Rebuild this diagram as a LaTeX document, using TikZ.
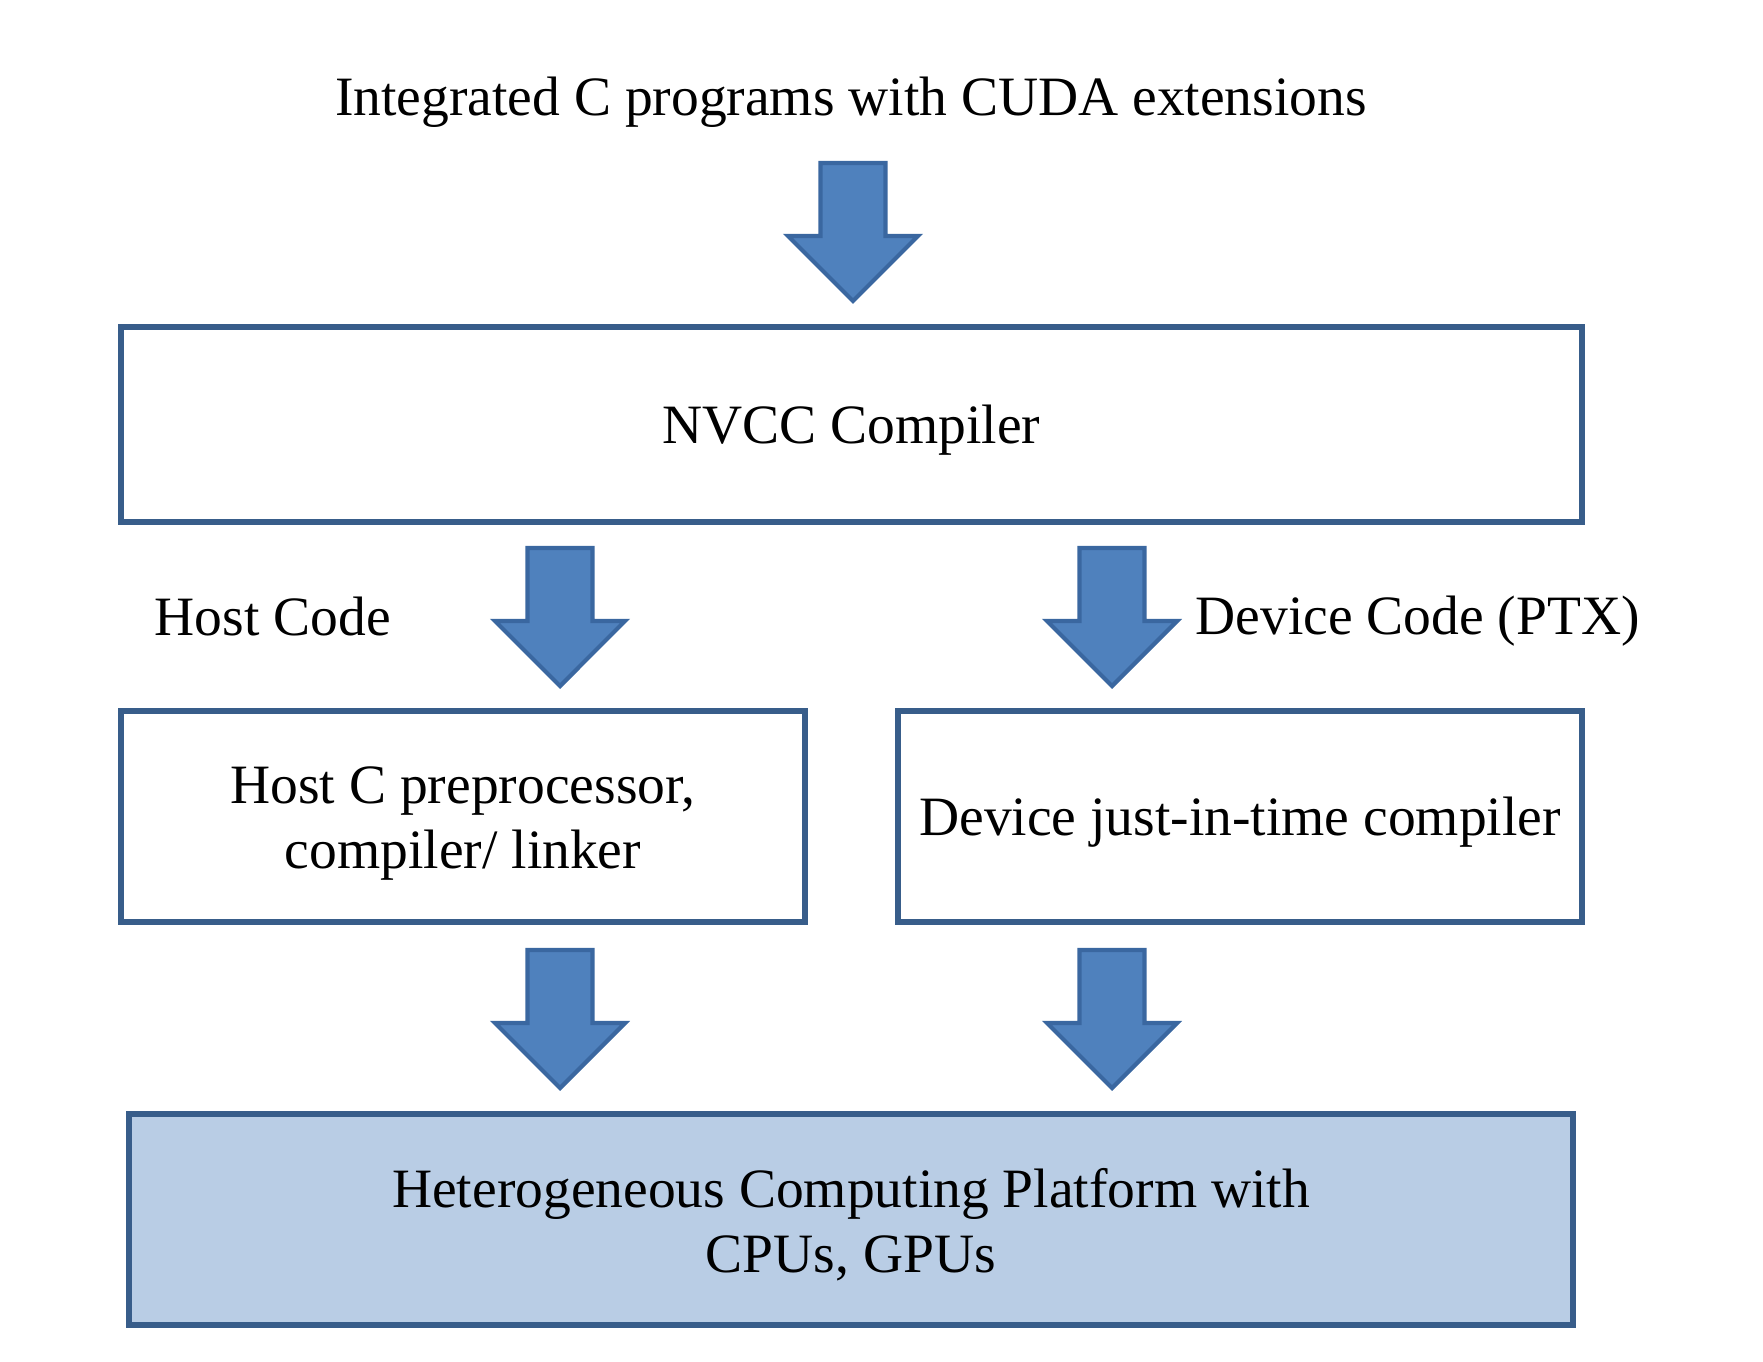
\documentclass[tikz,border=0pt]{standalone}
\usepackage{fontspec}
\setmainfont{Liberation Serif}
\usetikzlibrary{positioning}
\definecolor{boxline}{HTML}{385D8A}
\definecolor{arrowfill}{HTML}{4F81BD}
\definecolor{arrowline}{HTML}{3A67A0}
\definecolor{platfill}{HTML}{B9CDE5}

\tikzset{
  stage/.style={draw=boxline,line width=1.7pt,align=center,inner sep=0pt,
    font=\fontsize{15.8}{18.5}\selectfont,
    execute at begin node={\rule{0pt}{14pt}}},
  twoline/.style={execute at begin node={\rule{0pt}{32.7pt}}},
  codetag/.style={inner sep=0pt,font=\fontsize{15.8}{18.5}\selectfont},
  blockarrow/.pic={
    \filldraw[fill=arrowfill,draw=arrowline,line width=1.2pt,line join=miter]
      (-0.325,0) -- (0.325,0) -- (0.325,-0.73) -- (0.65,-0.73)
      -- (0,-1.38) -- (-0.65,-0.73) -- (-0.325,-0.73) -- cycle;
  }
}

\begin{document}
\begin{tikzpicture}
  \useasboundingbox (0,0) rectangle (17.63,-13.62);
  \node[codetag] (source) at (8.51,-1.02) {Integrated C programs with CUDA extensions};
  \pic at (8.53,-1.63) {blockarrow};
  \node[stage,minimum width=14.61cm,minimum height=1.95cm] (nvcc) at (8.515,-4.245)
    {NVCC Compiler};
  % host and device branches
  \pic at (5.60,-5.48) {blockarrow};
  \pic at (11.12,-5.48) {blockarrow};
  \node[codetag,anchor=west] (hostcode) at (1.54,-6.16) {Host Code};
  \node[codetag,anchor=west] (devcode) at (11.95,-6.215) {Device Code (PTX)};
  \node[stage,twoline,minimum width=6.84cm,minimum height=2.11cm] (hostc) at (4.63,-8.165)
    {Host C preprocessor,\\compiler/ linker};
  \node[stage,minimum width=6.84cm,minimum height=2.11cm] (devjit) at (12.40,-8.165)
    {Device just-in-time compiler};
  \pic at (5.60,-9.50) {blockarrow};
  \pic at (11.12,-9.50) {blockarrow};
  \node[stage,twoline,fill=platfill,minimum width=14.44cm,minimum height=2.11cm] (platform)
    at (8.51,-12.195) {Heterogeneous Computing Platform with\\CPUs, GPUs};
\end{tikzpicture}
\end{document}
